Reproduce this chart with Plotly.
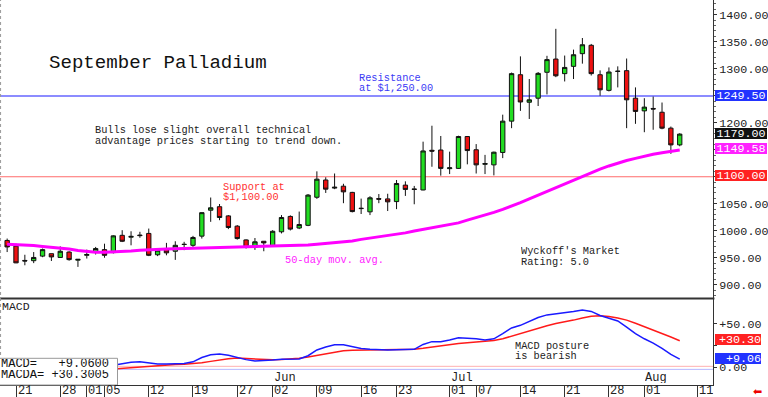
import plotly.graph_objects as go

# ---------------- data ----------------
day_idx = list(range(-1, 76))  # trading-day index (0 = Apr 21)

open_ = [982, 971.5, 945, 944.5, 953, 957.5, 950.5, 960.5, 945.5, 954.5,
         961, 965, 959.5, 991.5, 988, 992, 995, 955.5, 965, 962,
         975, 973, 990, 1038, 1044.5, 1027.5, 1008.5, 983, 969, 980.5,
         972, 998, 1026.5, 1005, 1010, 1062, 1094, 1079, 1082.5, 1071,
         1041, 1035, 1059.5, 1059, 1054, 1084.5, 1077.5, 1075.5, 1149, 1149.5,
         1115, 1115.5, 1174.5, 1150, 1123, 1122, 1145, 1203, 1289, 1238,
         1245.5, 1293.5, 1318, 1291, 1304.5, 1328, 1343.5, 1289, 1260, 1295,
         1296.5, 1245.5, 1222, 1226.5, 1219.5, 1190, 1159]
high = [985.5, 976, 955.5, 960.5, 967, 957.5, 971, 962, 947.5, 965,
        970, 976, 991.5, 1001, 999, 998, 1004, 968, 977.5, 980.5,
        979.5, 990.5, 1034, 1061.5, 1049.5, 1029, 1010.5, 984, 986.5, 981,
        1001, 1029, 1028.5, 1035.5, 1068, 1110, 1099, 1106, 1087, 1072,
        1059.5, 1064, 1068, 1068.5, 1094, 1091.5, 1083, 1165, 1194.5, 1175.5,
        1146.5, 1176, 1175.5, 1160.5, 1140.5, 1146.5, 1215, 1293, 1323, 1281,
        1294, 1324, 1374, 1324.5, 1335.5, 1357, 1346, 1297, 1302.5, 1304.5,
        1319, 1265.5, 1245.5, 1248.5, 1237.5, 1193, 1180.5]
low = [960.5, 940, 936, 940, 951, 944, 950, 944.5, 933, 948.5,
       956, 950, 958, 979, 973, 987, 953, 953, 954.5, 946,
       964, 970, 985.5, 1016.5, 1019.5, 1003, 983.5, 967, 964.5, 962,
       970, 995, 1000.5, 1003, 1008.5, 1059, 1070, 1077, 1051, 1034,
       1031, 1029, 1051, 1036.5, 1040, 1064.5, 1049, 1075, 1118.5, 1102,
       1105, 1114.5, 1123, 1106, 1105, 1102.5, 1134.5, 1190, 1222, 1207,
       1231, 1252.5, 1284.5, 1276.5, 1281, 1309.5, 1287.5, 1250, 1258, 1265.5,
       1190, 1198, 1182.5, 1187, 1188, 1142.5, 1156.5]
close = [970, 940.5, 944, 950.5, 965, 951.5, 962, 946.5, 947, 956,
         967, 954.5, 990.5, 980.5, 989.5, 991, 954.5, 964, 959, 973,
         974.5, 987.5, 1033.5, 1042.5, 1024.5, 1006, 985.5, 969, 979.5, 977.5,
         999, 1024.5, 1003, 1011.5, 1066, 1095.5, 1077, 1080.5, 1072, 1035.5,
         1041.5, 1061, 1058.5, 1053.5, 1087.5, 1076.5, 1076.5, 1147.8, 1147.5, 1115.5,
         1116.5, 1174.5, 1148.5, 1122, 1124.5, 1145.5, 1203, 1291, 1238.5, 1242.5,
         1291.5, 1317, 1287, 1302.5, 1326, 1344.5, 1291, 1261, 1294, 1295.5,
         1242.5, 1221, 1229, 1225.5, 1190, 1159, 1179]
ma50 = [974.8, 974.3, 973.5, 972.5, 971, 969.5, 968, 966, 963.5, 961.5,
        960.3, 960, 960.5, 961.5, 962.5, 964, 965, 965.5, 966, 966.5,
        967, 967.5, 968, 968.5, 969, 969.3, 969.6, 969.8, 970, 970.3,
        970.8, 971.3, 971.8, 972.5, 973.5, 975, 976.5, 978, 979.5, 981,
        984, 986.5, 988.5, 990.5, 993, 996, 999.5, 1002.5, 1005.5, 1008.5,
        1011.5, 1014.5, 1019.6, 1024, 1029, 1034, 1039.5, 1045.5, 1052, 1059,
        1066, 1073, 1080, 1087, 1094, 1101, 1108, 1114, 1120, 1125.5,
        1130, 1134, 1138, 1141.5, 1144.5, 1147, 1149.58]
macd = [3, 2, 0.5, -1, -1.5, -1.5, -1, -1.5, -2, -2,
        -1, 0, 2, 4, 5.5, 6, 5, 3.5, 3.5, 3.8,
        4, 6, 11, 14, 15, 13.5, 11, 8.5, 7, 7.2,
        8, 8.8, 9, 9.2, 13, 19.6, 23, 25.5, 25.5, 23,
        21.2, 20.5, 19.8, 19.6, 19.8, 20.2, 20.4, 26, 29.2, 29.2,
        31, 33.8, 33.5, 32.5, 31.1, 32.5, 38.5, 45, 48, 52.5,
        57, 60, 61.2, 62.3, 64, 65.7, 64, 59.3, 56, 53,
        46, 38.5, 32.5, 27.5, 21.5, 14.5, 9.06]
signal = [-3, -3, -3.2, -3.4, -3.5, -3.5, -3.4, -3.3, -3.2, -3.1,
          -3, -2.8, -2.4, -1.6, -0.6, 0.4, 1.2, 1.8, 2.3, 2.8,
          3.2, 3.6, 4.8, 6.5, 8.2, 9.6, 10.3, 9.8, 9, 8.3,
          8.3, 8.6, 9, 10, 11.5, 13.5, 15.5, 17.5, 18.8, 19.4,
          19.6, 19.6, 19.6, 19.7, 19.8, 20, 20.4, 21.5, 23, 24.5,
          26.1, 27, 28, 29, 29.8, 30.5, 32.5, 35.5, 39, 42,
          45, 47.5, 50, 51.8, 54, 56.5, 58.5, 59, 58.2, 56.5,
          54, 50.3, 46.5, 42.5, 39, 34.5, 30.3]

tick_pos = [0, 5, 8, 10, 15, 20, 25, 29, 34, 39, 43, 49, 52, 57, 62, 67, 71, 77]
tick_text = ["21", "28", "01", "05", "12", "19", "27", "02", "09", "16",
             "23", "01", "07", "14", "21", "28", "01", "11"]
month_pos = [29, 49, 71]
month_text = ["Jun", "Jul", "Aug"]
price_ticks = [900, 950, 1000, 1050, 1100, 1150, 1200, 1250, 1300, 1350, 1400]
# labels at 1100, 1150 and 1250 sit under the value boxes in the original
price_tick_text = ["900.00", "950.00", "1000.00", "1050.00", "", "", "1200.00", "",
                   "1300.00", "1350.00", "1400.00"]
macd_ticks = [0, 25, 50]
macd_tick_text = ["0.00", "", "+50.00"]

resistance = 1249.50
support = 1100.00
last_close = 1179.00
last_ma = 1149.58
last_macd = 9.0600
last_signal = 30.3005

# ---------------- geometry / style ----------------
W, H = 768, 397
PR, PB = 55, 12
PW, PH = W - PR, H - PB          # plot area 713 x 385
X_RANGE = [-1.808, 78.76]
PRICE_RANGE = [875.4, 1427.4]
MACD_RANGE = [-20.7, 78.3]
PRICE_BOTTOM_PX = 298
MACD_TOP_PX = 299
MONO = "Liberation Mono"


def ax(px):
    return px / PW


def ay(py):
    return (PH - py) / PH


def xpx(i):
    return (i - X_RANGE[0]) / (X_RANGE[1] - X_RANGE[0]) * PW


fig = go.Figure()

fig.add_trace(go.Candlestick(
    x=day_idx, open=open_, high=high, low=low, close=close,
    increasing=dict(line=dict(color="#111111", width=1), fillcolor="#22dd22"),
    decreasing=dict(line=dict(color="#111111", width=1), fillcolor="#ee1111"),
    whiskerwidth=0, showlegend=False, hoverinfo="skip",
    xaxis="x", yaxis="y"))

fig.add_trace(go.Scatter(x=day_idx, y=ma50, mode="lines",
                         line=dict(color="#ff00ff", width=3),
                         showlegend=False, xaxis="x", yaxis="y", hoverinfo="skip"))

fig.add_trace(go.Scatter(x=day_idx, y=signal, mode="lines",
                         line=dict(color="#ff1a1a", width=1.5),
                         showlegend=False, xaxis="x", yaxis="y2", hoverinfo="skip"))
fig.add_trace(go.Scatter(x=day_idx, y=macd, mode="lines",
                         line=dict(color="#1a1aff", width=1.5),
                         showlegend=False, xaxis="x", yaxis="y2", hoverinfo="skip"))

shapes = []
# resistance / support lines
shapes.append(dict(type="line", xref="paper", yref="y", x0=0, x1=1,
                   y0=resistance, y1=resistance,
                   line=dict(color="#8c8cff", width=2), layer="below"))
shapes.append(dict(type="line", xref="paper", yref="y", x0=0, x1=1,
                   y0=support, y1=support,
                   line=dict(color="#ff6b6b", width=1.2), layer="below"))
# MACD reference lines
shapes.append(dict(type="line", xref="paper", yref="y2", x0=0, x1=1, y0=0.8, y1=0.8,
                   line=dict(color="#ffb0b0", width=1), layer="below"))
shapes.append(dict(type="line", xref="paper", yref="y2", x0=0, x1=1, y0=-2.7, y1=-2.7,
                   line=dict(color="#b8b8ff", width=1), layer="below"))
# panel separator
shapes.append(dict(type="line", xref="paper", yref="paper", x0=0, x1=1.002,
                   y0=ay(298.5), y1=ay(298.5), line=dict(color="#333333", width=2)))
# dotted left edge
shapes.append(dict(type="line", xref="paper", yref="paper", x0=0.0008, x1=0.0008,
                   y0=0, y1=1, line=dict(color="#999999", width=1, dash="dot")))
# MACD value box
shapes.append(dict(type="rect", xref="paper", yref="paper", x0=-0.002, x1=ax(117.5),
                   y0=0, y1=ay(358.3), fillcolor="white",
                   line=dict(color="#999999", width=1), layer="above"))

annotations = []


def txt(text, left_px, cy_px, size=10.3, color="#222222", family=MONO, box_h=None):
    a = dict(text=text, xref="paper", yref="paper", x=ax(left_px), y=ay(cy_px),
             xanchor="left", yanchor="middle", showarrow=False,
             borderpad=0, borderwidth=0, valign="middle",
             font=dict(family=family, size=size, color=color))
    if box_h is not None:
        a["height"] = box_h
    annotations.append(a)


txt("September Palladium", 49, 63, size=19.1, color="#111111")
txt("Resistance", 359, 78, color="#3a3af5", box_h=9.5)
txt("at $1,250.00", 359, 88, color="#3a3af5", box_h=9.5)
txt("Bulls lose slight overall technical", 95, 130.5, box_h=10)
txt("advantage prices starting to trend down.", 95, 141, box_h=10)
txt("Support at", 223, 187, color="#ff3030", box_h=9.5)
txt("$1,100.00", 223, 197, color="#ff3030", box_h=9.5)
txt("50-day mov. avg.", 285, 260, color="#ff22ff")
txt("Wyckoff's Market", 521, 251, box_h=10.5)
txt("Rating: 5.0", 521, 262, box_h=10.5)
txt("MACD", 2, 306.5, size=11.5)
txt("MACD posture", 515, 345.5, box_h=10)
txt("is bearish", 515, 356, box_h=10)
txt("MACD=   %+.4f" % last_macd, 1, 364, size=12, color="#111111", box_h=10.5)
txt("MACDA= %+.4f" % last_signal, 1, 375, size=12, color="#111111", box_h=10.5)

for p, t in zip(month_pos, month_text):
    txt(t, xpx(p) + 1, 377.5, size=12, color="#222222", box_h=11)
for p, t in zip(tick_pos, tick_text):
    txt(t, xpx(p) + 1.5, 390.8, size=12, color="#222222", box_h=11)

# red arrow in the corner
annotations.append(dict(text="\u2b05", xref="paper", yref="paper", x=ax(758), y=ay(391),
                        xanchor="center", yanchor="middle", showarrow=False,
                        font=dict(family="DejaVu Sans", size=11, color="#ee0000")))


def axis_box(value, yref, text, bg, width, align="center"):
    annotations.append(dict(text=text, xref="paper", yref=yref, x=1, y=value,
                            xanchor="left", yanchor="middle", xshift=2, yshift=1,
                            showarrow=False, bgcolor=bg, borderpad=0, borderwidth=0,
                            width=width, height=11, align=align, valign="middle",
                            font=dict(family=MONO, size=11.7, color="white")))


axis_box(resistance, "y", "%.2f" % resistance, "#2233ff", 52)
axis_box(last_close, "y", "%.2f" % last_close, "#111111", 52)
axis_box(last_ma, "y", "%.2f" % last_ma, "#ff22ff", 52)
axis_box(support, "y", "%.2f" % support, "#ff2222", 52)
axis_box(last_signal, "y2", "%+.2f" % last_signal, "#ff2222", 46, align="right")
axis_box(last_macd, "y2", "%+.2f" % last_macd, "#2233ff", 46, align="right")

fig.update_layout(
    width=W, height=H,
    margin=dict(l=0, r=PR, t=0, b=PB, pad=0),
    paper_bgcolor="white", plot_bgcolor="white",
    showlegend=False,
    xaxis=dict(range=X_RANGE, anchor="y2", tickvals=tick_pos, ticks="outside",
               ticklen=12, tickwidth=1, tickcolor="#333333", showticklabels=False,
               showgrid=False, zeroline=False, showline=True, linecolor="#333333",
               linewidth=1, rangeslider=dict(visible=False), fixedrange=True),
    yaxis=dict(domain=[ay(PRICE_BOTTOM_PX), 1], range=PRICE_RANGE, side="right",
               anchor="x", tickvals=price_ticks, ticktext=price_tick_text, ticks="outside",
               ticklen=3, tickcolor="#333333", showline=True, linecolor="#333333",
               linewidth=1, showgrid=False, zeroline=False,
               tickfont=dict(family=MONO, size=11.7, color="#222222"),
               minor=dict(dtick=10, ticks="outside", ticklen=2, tickcolor="#666666")),
    yaxis2=dict(domain=[0, ay(MACD_TOP_PX)], range=MACD_RANGE, side="right",
                anchor="x", tickvals=macd_ticks, ticktext=macd_tick_text,
                ticks="outside", ticklen=3, tickcolor="#333333", showline=True,
                linecolor="#333333", linewidth=1, showgrid=False, zeroline=False,
                tickfont=dict(family=MONO, size=11.7, color="#222222")),
    shapes=shapes, annotations=annotations,
)

fig.write_html("out.html", config={"displayModeBar": False},
               post_script="document.body.style.margin='0';document.body.style.overflow='hidden';")
